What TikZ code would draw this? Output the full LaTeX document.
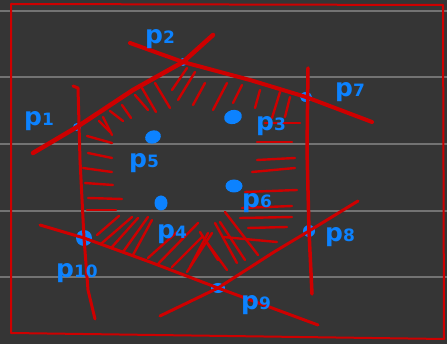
\documentclass[tikz,border=0pt]{standalone}
\usepackage{fontspec}
\setmainfont{DejaVu Sans}
\definecolor{bg}{RGB}{53,53,53}
\definecolor{rule}{RGB}{115,115,115}
\definecolor{ink}{RGB}{206,0,0}
\definecolor{pt}{RGB}{12,130,255}
\tikzset{
  edge/.style={draw=ink,line width=4pt,line cap=round,line join=round},
  hatch/.style={draw=ink,line width=2.4pt,line cap=round},
  dot/.style={fill=pt,draw=none,ellipse,inner sep=0pt},
  lbl/.style={text=pt,inner sep=0pt,font=\bfseries\fontsize{25}{25}\selectfont},
}
\newcommand{\dg}[1]{{\fontsize{17}{17}\selectfont #1}}
\usetikzlibrary{shapes.geometric}
\begin{document}
\begin{tikzpicture}[x=1pt,y=-1pt]
\useasboundingbox (0,0) rectangle (447,344);
\fill[bg] (0,0) rectangle (447,344);
% ruled lines
\foreach \yy in {11,77,144,211,277}{\draw[rule,line width=2pt] (0,\yy) -- (447,\yy);}
% frame
\draw[ink,line width=2pt,line join=round] (11,4) -- (443,5) -- (444,339) -- (11,333) -- cycle;

% dots
\node[dot,minimum width=8pt,minimum height=8pt] (p1) at (77,127) {};
\node[dot,minimum width=8pt,minimum height=8pt] (p2) at (183,62) {};
\node[dot,minimum width=12pt,minimum height=10pt] (p7) at (306,97) {};
\node[dot,minimum width=16pt,minimum height=13pt,rotate=20] (p5) at (153,137) {};
\node[dot,minimum width=18pt,minimum height=14pt,rotate=15] (p3) at (233,117) {};
\node[dot,minimum width=17pt,minimum height=13pt] (p6) at (234,186) {};
\node[dot,minimum width=13pt,minimum height=15pt] (p4) at (161,203) {};
\node[dot,minimum width=16pt,minimum height=16pt] (p10) at (84,238) {};
\node[dot,minimum width=14pt,minimum height=10pt] (p9) at (218,288) {};
\node[dot,minimum width=12pt,minimum height=12pt] (p8) at (309,231) {};

% hatching
\foreach \a/\b/\c/\d in {
  99/121/110/132, 103/117/112/135, 110/111/123/121, 122/105/131/118,
  135/95/148/110, 142/88/156/112, 155/83/170/108, 187/68/172/90,
  195/72/178/100, 205/83/193/105, 227/83/213/110, 242/85/233/103,
  260/90/255/108, 280/92/272/118, 290/97/285/117,
  87/136/112/143, 88/153/112/158, 83/168/112/172, 85/183/113/185,
  88/198/122/199, 87/210/116/210,
  265/123/300/123, 257/142/292/142, 257/160/295/158, 252/172/295/168,
  245/192/297/190, 242/208/292/206, 240/218/292/217, 248/228/287/227,
  223/237/277/242,
  97/235/119/216, 102/243/132/217, 112/247/138/218, 123/252/148/217,
  133/255/152/220, 148/258/177/232, 157/265/198/223, 172/267/202/237,
  187/272/212/233, 190/267/208/233, 200/232/218/260, 203/237/227/270,
  215/223/237/263, 220/222/245/260, 225/212/258/255}
  {\draw[hatch] (\a,\b) -- (\c,\d);}

% line end points
\coordinate (a1) at (33,153);
\coordinate (a2) at (133,90);
\coordinate (a3) at (213,35);
\coordinate (b1) at (130,43);
\coordinate (b2) at (250,80);
\coordinate (b3) at (372,122);
\coordinate (c1) at (308,68);
\coordinate (c2) at (307,150);
\coordinate (c3) at (312,294);
\coordinate (d0) at (73,86);
\coordinate (d1) at (78,88);
\coordinate (d2) at (80,160);
\coordinate (d3) at (88,290);
\coordinate (d4) at (95,319);
\coordinate (e1) at (40,225);
\coordinate (e2) at (150,262);
\coordinate (e3) at (318,325);
\coordinate (f1) at (160,316);
\coordinate (f2) at (274,252);
\coordinate (f3) at (358,201);

% red edges
\draw[edge,line width=4.5pt] (a1) -- (p1.center) -- (a2) -- (p2.center) -- (a3);
\draw[edge] (b1) -- (p2.center) -- (b2) -- (p7.center) -- (b3);
\draw[edge,line width=3.5pt] (c1) -- (c2) -- (p8.center) -- (c3);
\draw[edge,line width=3pt] (d0) -- (d1) -- (d2) -- (p10.center) -- (d3) -- (d4);
\draw[edge,line width=3pt] (e1) -- (p10.center) -- (e2) -- (p9.center) -- (e3);
\draw[edge,line width=3pt] (f1) -- (p9.center) -- (f2) -- (p8.center) -- (f3);

% labels
\node[lbl] (l1) at (39,121) {p\dg{1}};
\node[lbl] (l2) at (160,39) {p\dg{2}};
\node[lbl] (l3) at (271,126) {p\dg{3}};
\node[lbl] (l4) at (172,234) {p\dg{4}};
\node[lbl] (l5) at (144,163) {p\dg{5}};
\node[lbl] (l6) at (257,203) {p\dg{6}};
\node[lbl] (l7) at (350,92) {p\dg{7}};
\node[lbl] (l8) at (340,237) {p\dg{8}};
\node[lbl] (l9) at (256,305) {p\dg{9}};
\node[lbl] (l10) at (77,273) {p\dg{10}};
\end{tikzpicture}
\end{document}
